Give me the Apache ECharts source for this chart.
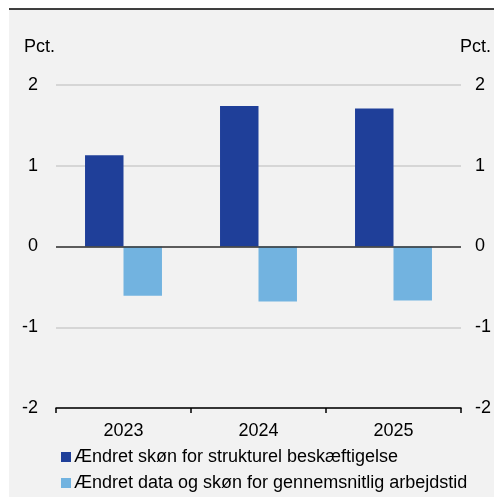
<!DOCTYPE html>
<html>
<head>
<meta charset="utf-8">
<script src="https://cdn.jsdelivr.net/npm/echarts@6/dist/echarts.min.js"></script>
<style>
html, body { margin: 0; padding: 0; background: #ffffff; }
#chart { width: 494px; height: 497px; }
</style>
</head>
<body>
<div id="chart"></div>
<script>
var years = ['2023', '2024', '2025'];
var seriesNames = ['Ændret skøn for strukturel beskæftigelse', 'Ændret data og skøn for gennemsnitlig arbejdstid'];
var beskaeftigelse = [1.13, 1.74, 1.71];
var arbejdstid = [-0.61, -0.68, -0.67];
var yTicks = [-2, -1, 0, 1, 2];

var myChart = echarts.init(document.getElementById('chart'));
var font = 'Liberation Sans, Arial, sans-serif';

function yAxisCfg(pos) {
    return {
        type: 'value',
        position: pos,
        min: yTicks[0],
        max: yTicks[yTicks.length - 1],
        interval: 1,
        axisLine: { show: false },
        axisTick: { show: false },
        axisLabel: {
            color: '#000000',
            fontSize: 18,
            fontFamily: font,
            margin: pos === 'left' ? 18 : 14
        },
        splitLine: { show: pos === 'left', lineStyle: { color: '#cccccc', width: 1.5 } }
    };
}

var option = {
    backgroundColor: '#ffffff',
    animation: false,
    textStyle: { fontFamily: font },
    graphic: [
        { type: 'rect', shape: { x: 9, y: 9, width: 485, height: 488 }, style: { fill: '#f2f2f2' }, z: -10 },
        { type: 'line', shape: { x1: 9, y1: 9, x2: 494, y2: 9 }, style: { stroke: '#000000', lineWidth: 1.5 } },
        { type: 'text', left: 24, top: 38, style: { text: 'Pct.', fill: '#000000', font: '18px ' + font } },
        { type: 'text', left: 460, top: 38, style: { text: 'Pct.', fill: '#000000', font: '18px ' + font } }
    ],
    grid: { left: 56, right: 33, top: 85, bottom: 89 },
    legend: {
        orient: 'vertical',
        left: 56,
        top: 443,
        itemWidth: 10,
        itemHeight: 10,
        itemGap: 8,
        icon: 'rect',
        textStyle: { color: '#000000', fontSize: 18, lineHeight: 18, fontFamily: font, padding: [0, 0, 0, -2] },
        data: seriesNames
    },
    xAxis: {
        type: 'category',
        data: years,
        axisLine: { onZero: false, lineStyle: { color: '#000000', width: 1.5 } },
        axisTick: { show: true, length: 5, lineStyle: { color: '#000000', width: 1.5 } },
        axisLabel: { color: '#000000', fontSize: 18, fontFamily: font, margin: 14 }
    },
    yAxis: [yAxisCfg('left'), yAxisCfg('right')],
    series: [
        {
            name: seriesNames[0],
            type: 'bar',
            data: beskaeftigelse,
            barGap: '0%',
            barCategoryGap: '43%',
            itemStyle: { color: '#1f3f99' },
            markLine: {
                silent: true,
                symbol: 'none',
                label: { show: false },
                lineStyle: { color: '#333333', width: 1.5, type: 'solid' },
                data: [{ yAxis: 0 }]
            }
        },
        {
            name: seriesNames[1],
            type: 'bar',
            data: arbejdstid,
            itemStyle: { color: '#72b3e0' }
        }
    ]
};
myChart.setOption(option);
</script>
</body>
</html>
